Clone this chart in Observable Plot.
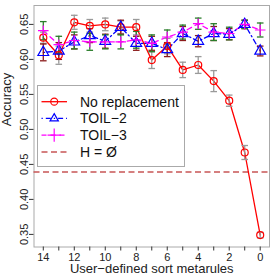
<!DOCTYPE html>
<html><head><meta charset="utf-8">
<script src="https://cdn.jsdelivr.net/npm/d3@7"></script>
<script src="https://cdn.jsdelivr.net/npm/@observablehq/plot@0.6"></script>
<style>
body{margin:0;background:#fff;}
#chart{position:relative;width:274px;height:280px;font-family:"Liberation Sans",Arial,sans-serif;}
#chart svg{position:absolute;left:0;top:0;}
</style></head><body><div id="chart"></div>
<script>
// ---- data ----
const metarules = [14, 13, 12, 11, 10, 9, 8, 7, 6, 5, 4, 3, 2, 1, 0];
const noReplacement    = [0.631, 0.606, 0.653, 0.648, 0.650, 0.646, 0.646, 0.599, 0.619, 0.585, 0.592, 0.569, 0.541, 0.467, 0.349];
const noReplacementErr = [0.008, 0.013, 0.010, 0.009, 0.009, 0.009, 0.011, 0.012, 0.011, 0.011, 0.012, 0.015, 0.008, 0.010, 0.004];
const toil2    = [0.610, 0.612, 0.625, 0.634, 0.626, 0.646, 0.623, 0.623, 0.614, 0.637, 0.626, 0.637, 0.636, 0.650, 0.612];
const toil2Err = [0.012, 0.012, 0.010, 0.010, 0.010, 0.010, 0.010, 0.010, 0.010, 0.010, 0.008, 0.010, 0.008, 0.006, 0.007];
const toil3    = [0.641, 0.621, 0.627, 0.625, 0.625, 0.625, 0.628, 0.623, 0.632, 0.639, 0.651, 0.639, 0.637, 0.650, 0.642];
const toil3Err = [0.013, 0.012, 0.012, 0.012, 0.010, 0.010, 0.012, 0.012, 0.010, 0.010, 0.008, 0.012, 0.009, 0.006, 0.010];
const hEmpty = 0.439;
const yTicks = [0.35, 0.40, 0.45, 0.50, 0.55, 0.60, 0.65];
const xTicks = [14, 13, 12, 11, 10, 9, 8, 7, 6, 5, 4, 3, 2, 1, 0];
const xTickLabels = [14, 12, 10, 8, 6, 4, 2, 0];
const seriesLabels = ["No replacement", "TOIL\u22122", "TOIL\u22123", "H = \u00D8"];
const xLabel = "User\u2212defined sort metarules";
const yLabel = "Accuracy";

const rows = (vals, errs) => metarules.map((m, i) => ({m, v: vals[i], lo: vals[i] - errs[i], hi: vals[i] + errs[i]}));
const rNo = rows(noReplacement, noReplacementErr);
const rT2 = rows(toil2, toil2Err);
const rT3 = rows(toil3, toil3Err);

const cap = {draw(ctx) { ctx.moveTo(-3.3, 0); ctx.lineTo(3.3, 0); }};
const errBars = (data, color) => [
  Plot.ruleX(data, {x: "m", y1: "lo", y2: "hi", stroke: color, strokeWidth: 1.3}),
  Plot.dot(data, {x: "m", y: "lo", symbol: cap, stroke: color, strokeWidth: 1.3}),
  Plot.dot(data, {x: "m", y: "hi", symbol: cap, stroke: color, strokeWidth: 1.3})
];

const C = {red: "#ff0000", blue: "#0000ff", mag: "#ff00ff", h: "#c85555",
           grey: "#9a9a9a", dred: "#8b1a1a", green: "#2a7d2a"};

const plot = Plot.plot({
  width: 274, height: 280,
  marginLeft: 33.5, marginRight: 5, marginTop: 5, marginBottom: 33.5,
  style: {fontFamily: '"Liberation Sans", Arial, sans-serif', fontSize: "11px", background: "transparent", color: "#222"},
  x: {domain: [14.6, -0.6], axis: null},
  y: {domain: [0.332, 0.677], axis: null},
  marks: [
    Plot.frame({stroke: "#aaaaaa", strokeWidth: 1}),
    Plot.axisX({ticks: xTicks, tickSize: 4, tickFormat: () => "", stroke: "#333", label: null}),
    Plot.text(xTickLabels, {x: d => d, text: d => String(d), frameAnchor: "bottom", dy: 5.8, lineAnchor: "top", fill: "#222", fontSize: 11}),
    Plot.axisY({ticks: yTicks, tickSize: 4.5, tickFormat: () => "", stroke: "#333", label: null}),
    Plot.text(yTicks, {y: d => d, text: d => d.toFixed(2), frameAnchor: "left", rotate: -90, dx: -10, textAnchor: "middle", lineAnchor: "middle", fill: "#222", fontSize: 11}),
    Plot.text([xLabel], {frameAnchor: "bottom", dy: 16.6, lineAnchor: "top", fontSize: 13, fill: "#222"}),
    Plot.text([yLabel], {frameAnchor: "left", dx: -27.6, rotate: -90, lineAnchor: "middle", fontSize: 13, fill: "#222"}),
    Plot.ruleY([hEmpty], {stroke: C.h, strokeWidth: 1.5, strokeDasharray: "6,3.5"}),
    Plot.line(rT3, {x: "m", y: "v", stroke: C.mag, strokeWidth: 1.3, strokeDasharray: "5,4"}),
    Plot.line(rT2, {x: "m", y: "v", stroke: C.blue, strokeWidth: 1.3, strokeDasharray: "1.3,3,5,3"}),
    Plot.line(rNo, {x: "m", y: "v", stroke: C.red, strokeWidth: 1.3}),
    ...errBars(rNo, C.grey),
    ...errBars(rT2, C.dred),
    ...errBars(rT3, C.green),
    Plot.dot(rNo, {x: "m", y: "v", r: 3.5, stroke: C.red, fill: "none", strokeWidth: 1.2}),
    Plot.dot(rT2, {x: "m", y: "v", r: 4, symbol: "triangle", stroke: C.blue, fill: "none", strokeWidth: 1.2}),
    Plot.dot(rT3, {x: "m", y: "v", r: 3.5, symbol: "plus", stroke: C.mag, strokeWidth: 1.2})
  ]
});
d3.select(plot).selectAll("text").filter(function() { return this.textContent === ""; }).remove();
document.getElementById("chart").appendChild(plot);

// ---- legend overlay ----
const svg = d3.select("#chart").append("svg").attr("width", 274).attr("height", 280)
  .style("font-family", '"Liberation Sans", Arial, sans-serif');
svg.append("rect").attr("x", 37.5).attr("y", 85.5).attr("width", 147).attr("height", 81)
  .attr("fill", "#fff").attr("stroke", "#aaaaaa").attr("stroke-width", 1);
const legendStyles = [
  {color: C.red, dash: null, sym: d3.symbolCircle, size: 38},
  {color: C.blue, dash: "1.3,3,5,3", sym: d3.symbolTriangle, size: 30},
  {color: C.mag, dash: "5,4", sym: d3.symbolPlus, size: 60},
  {color: C.h, dash: "6,3.5", sym: null, size: 0}
];
seriesLabels.forEach((lab, i) => {
  const s = legendStyles[i];
  const y = 101.7 + i * 16.75;
  const g = svg.append("g");
  g.append("line").attr("x1", 41.5).attr("x2", 67).attr("y1", y).attr("y2", y)
    .attr("stroke", s.color).attr("stroke-width", i === 3 ? 1.5 : 1.3).attr("stroke-dasharray", s.dash);
  if (s.sym) g.append("path").attr("d", d3.symbol(s.sym, s.size)()).attr("transform", `translate(54.2,${y})`)
    .attr("fill", "none").attr("stroke", s.color).attr("stroke-width", 1.2);
  g.append("text").attr("x", 80).attr("y", y).attr("dy", "0.35em").attr("font-size", 14).attr("fill", "#111").text(lab);
});
</script></body></html>
